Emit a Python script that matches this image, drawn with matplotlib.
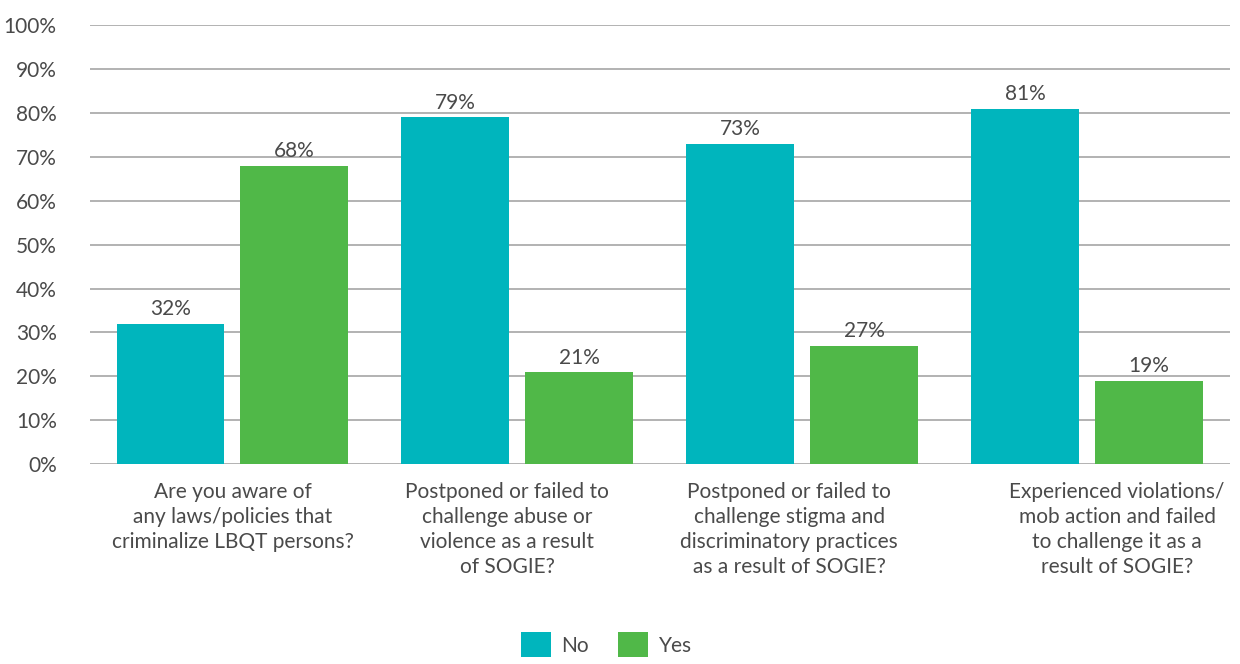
import numpy as np
import matplotlib.pyplot as plt
import matplotlib.transforms as mtransforms
from matplotlib.ticker import FuncFormatter

# Datos del gráfico
categories = [
    "Are you aware of\nany laws/policies that\ncriminalize LBQT persons?",
    "Postponed or failed to\nchallenge abuse or\nviolence as a result\nof SOGIE?",
    "Postponed or failed to\nchallenge stigma and\ndiscriminatory practices\nas a result of SOGIE?",
    "Experienced violations/\nmob action and failed\nto challenge it as a\nresult of SOGIE?",
]
no_values = [32, 79, 73, 81]
yes_values = [68, 21, 27, 19]
series_names = ["No", "Yes"]

plt.rcParams['font.family'] = ['Lato', 'DejaVu Sans']
text_color = '#4a4a4a'
no_color = '#00b5bd'
yes_color = '#50b848'
fs = 15

fig = plt.figure(figsize=(12.4, 6.64), dpi=100)
ax = fig.add_axes([0.0726, 0.301, 0.919, 0.661])

x = np.arange(len(categories))
width = 0.379
offset = 0.2175

bars_no = ax.bar(x - offset, no_values, width, color=no_color, label=series_names[0], zorder=3)
bars_yes = ax.bar(x + offset, yes_values, width, color=yes_color, label=series_names[1], zorder=3)

for bars in (bars_no, bars_yes):
    for b in bars:
        ax.text(b.get_x() + b.get_width() / 2, b.get_height() + 1.0, f"{b.get_height():.0f}%",
                ha='center', va='bottom', fontsize=fs, color=text_color)

ax.set_xlim(-0.5, len(categories) - 0.5)
ax.set_ylim(0, 100)
ax.set_yticks(np.arange(0, 101, 10))
ax.yaxis.set_major_formatter(FuncFormatter(lambda v, p: f"{v:.0f}%"))
ax.grid(axis='y', color='#a6a6a6', linewidth=1.2, zorder=0)

ax.set_xticks(x)
ax.set_xticklabels(categories, fontsize=fs, color=text_color, linespacing=1.3, va='top')
ax.tick_params(axis='both', length=0, labelsize=fs, labelcolor=text_color)
ax.tick_params(axis='x', pad=13)
ax.tick_params(axis='y', pad=24)

# desplazamiento horizontal de las etiquetas (en píxeles), como en el original
label_shift = [0, -10, -13, 30]
for lbl, dx in zip(ax.get_xticklabels(), label_shift):
    lbl.set_transform(lbl.get_transform() +
                      mtransforms.ScaledTranslation(dx / 100, 0, fig.dpi_scale_trans))

for s in ax.spines.values():
    s.set_visible(False)

fig.legend(loc='lower center', bbox_to_anchor=(0.489, -0.018), ncol=2, frameon=False,
           fontsize=fs, handlelength=1.45, handleheight=1.45, columnspacing=1.4,
           handletextpad=0.5, labelcolor=text_color)

plt.savefig('out.png', dpi=100)
